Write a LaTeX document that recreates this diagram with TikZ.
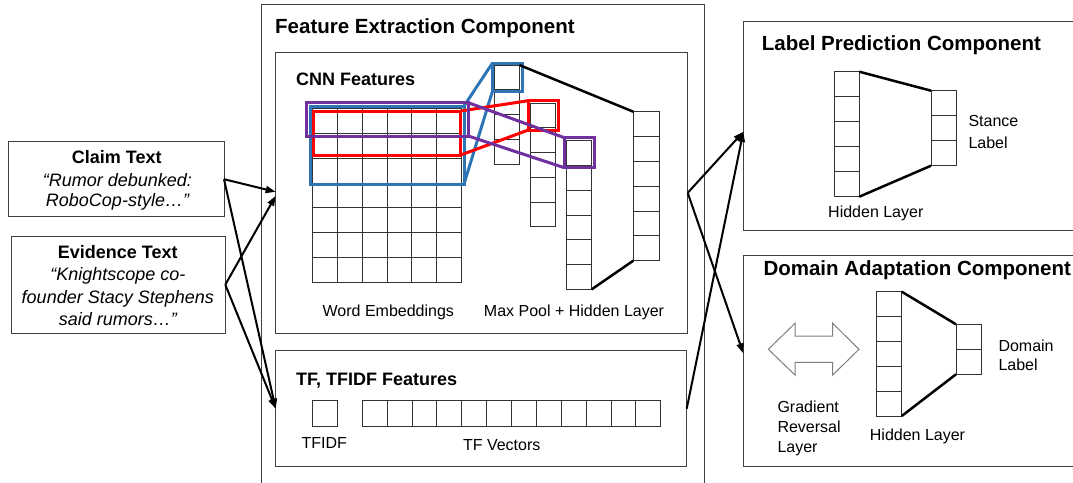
\documentclass[tikz,border=0pt]{standalone}
\usepackage{fontspec}
\setmainfont{Liberation Sans}
\usetikzlibrary{arrows.meta,calc}
\definecolor{boxgray}{HTML}{404040}
\definecolor{cellgray}{HTML}{333333}
\definecolor{hlblue}{HTML}{2E75B6}
\definecolor{hlred}{HTML}{FF0000}
\definecolor{hlpurple}{HTML}{7030A0}
\definecolor{arrgray}{HTML}{7F7F7F}
\tikzset{
  panel/.style={draw=boxgray, line width=1pt, inner sep=0pt, outer sep=0pt, anchor=north west},
  cellbox/.style={draw=cellgray, line width=1pt, inner sep=0pt, outer sep=0pt},
  cellline/.style={draw=cellgray, line width=1pt},
  hlbox/.style={draw=#1, line width=3pt, inner sep=0pt, outer sep=0pt, anchor=north west},
  hlline/.style={draw=#1, line width=3pt},
  fanline/.style={draw=black, line width=2.5pt},
  arr/.style={draw=black, line width=2pt, -{Triangle[length=10pt,width=7pt]}},
  comptitle/.style={font=\fontsize{20.5}{24}\selectfont\bfseries, inner sep=0pt, anchor=base west},
  subtitle/.style={font=\fontsize{18}{21}\selectfont\bfseries, inner sep=0pt, anchor=base west},
  lbl/.style={font=\fontsize{16}{19}\selectfont, inner sep=0pt, anchor=base},
  lblw/.style={font=\fontsize{16}{19}\selectfont, inner sep=0pt, anchor=base west},
  boxhead/.style={font=\fontsize{18}{21}\selectfont\bfseries, inner sep=0pt, anchor=base},
  boxtext/.style={font=\fontsize{18}{21}\selectfont\itshape, inner sep=0pt, anchor=base},
}
% #1 name, #2 x, #3 y (top), #4 width, #5 cell height, #6 number of cells
\newcommand{\cellcolumn}[6]{%
  \node[cellbox, minimum width=#4, minimum height=#5*#6, anchor=north west] (#1) at (#2,#3) {};
  \pgfmathtruncatemacro{\ccn}{#6-1}
  \foreach \k in {1,...,\ccn}{\draw[cellline] ($(#1.north west)+(0,\k*#5)$) -- ++(#4,0);}
}
% #1 name, #2 x, #3 y (top), #4 cell width, #5 height, #6 number of cells
\newcommand{\cellrow}[6]{%
  \node[cellbox, minimum width=#4*#6, minimum height=#5, anchor=north west] (#1) at (#2,#3) {};
  \pgfmathtruncatemacro{\ccn}{#6-1}
  \foreach \k in {1,...,\ccn}{\draw[cellline] ($(#1.north west)+(\k*#4,0)$) -- ++(0,#5);}
}
\begin{document}
\begin{tikzpicture}[x=1pt,y=-1pt]
\useasboundingbox (0,0) rectangle (1073,482);

% ---------- panels ----------
\node[panel, minimum width=443, minimum height=492] (fe) at (261,4) {};
\node[panel, minimum width=412, minimum height=280.3] (cnn) at (275.7,52.7) {};
\node[panel, minimum width=411, minimum height=116] (tf) at (275.7,350.7) {};
\node[panel, minimum width=333, minimum height=208.3] (label) at (743.3,21.7) {};
\node[panel, minimum width=333, minimum height=211.7] (domain) at (743.3,255) {};
\node[panel, minimum width=215.7, minimum height=75] (claim) at (8.3,141.7) {};
\node[panel, minimum width=214.3, minimum height=97.3] (evid) at (11,236) {};

% ---------- titles ----------
\node[comptitle] (fetitle) at (275,33) {Feature Extraction Component};
\node[subtitle] (cnntitle) at (296,85) {CNN Features};
\node[subtitle] (tftitle) at (296,385) {TF, TFIDF Features};
\node[comptitle] (labeltitle) at (761.7,50) {Label Prediction Component};
\node[comptitle] (domaintitle) at (763.3,275.5) {Domain Adaptation Component};

% ---------- input texts ----------
\node[boxhead] (claimhead) at (116.7,163.3) {Claim Text};
\node[boxtext] (claimt1) at (117.5,186.7) {“Rumor debunked:};
\node[boxtext] (claimt2) at (117.5,206.7) {RoboCop-style…”};
\node[boxhead] (evidhead) at (117.8,258.3) {Evidence Text};
\node[boxtext] (evidt1) at (117.8,280.7) {“Knightscope co-};
\node[boxtext] (evidt2) at (117.8,303.3) {founder Stacy Stephens};
\node[boxtext] (evidt3) at (117.8,325) {said rumors…”};

% ---------- word embedding grid ----------
\node[cellbox, minimum width=149.4, minimum height=174.3, anchor=north west] (we) at (312.3,108.3) {};
\foreach \k in {1,...,5}{\draw[cellline] ($(we.north west)+(\k*24.9,0)$) -- ++(0,174.3);}
\foreach \k in {1,...,6}{\draw[cellline] ($(we.north west)+(0,\k*24.9)$) -- ++(149.4,0);}

% ---------- feature map columns ----------
\cellcolumn{colA}{494.3}{65}{25}{24.83}{4}
\cellcolumn{colB}{530.7}{103.3}{25}{24.68}{5}
\cellcolumn{colC}{566.7}{140.7}{25}{24.77}{6}
\cellcolumn{colD}{633.3}{111.7}{25.7}{24.83}{6}

% ---------- highlights ----------
\node[hlbox=hlblue, minimum width=154, minimum height=78] (bluebox) at (310,106) {};
\node[hlbox=hlblue, minimum width=30, minimum height=28.4] (bluecell) at (492.3,63.3) {};
\draw[hlline=hlblue] (bluebox.north east) -- (bluecell.north west);
\draw[hlline=hlblue] (bluebox.south east) -- (bluecell.south west);

\node[hlbox=hlred, minimum width=147.4, minimum height=44] (redbox) at (313.3,111) {};
\node[hlbox=hlred, minimum width=30, minimum height=29.3] (redcell) at (528.3,100.7) {};
\draw[hlline=hlred] (redbox.north east) -- (redcell.north west);
\draw[hlline=hlred] (redbox.south east) -- (redcell.south west);

\node[hlbox=hlpurple, minimum width=162.3, minimum height=33.3] (purplebox) at (306,102.7) {};
\node[hlbox=hlpurple, minimum width=29.7, minimum height=30] (purplecell) at (564.3,137.7) {};
\draw[hlline=hlpurple] (purplebox.north east) -- (purplecell.north west);
\draw[hlline=hlpurple] (purplebox.south east) -- (purplecell.south west);

\draw[fanline] (colA.north east) -- (colD.north west);
\draw[fanline] (colC.south east) -- (colD.south west);

\node[lbl] (welabel) at (388.3,316) {Word Embeddings};
\node[lbl] (mplabel) at (574,316) {Max Pool + Hidden Layer};

% ---------- TF / TFIDF ----------
\node[cellbox, minimum width=25, minimum height=25.3, anchor=north west] (tfidf) at (312.3,400.7) {};
\cellrow{tfvec}{362.3}{400.7}{24.87}{25.3}{12}
\node[lbl] (tfidflabel) at (324.2,448.3) {TFIDF};
\node[lbl] (tfveclabel) at (501.7,450.5) {TF Vectors};

% ---------- label prediction ----------
\cellcolumn{lhid}{834}{71.7}{25.3}{25}{5}
\cellcolumn{stance}{931}{90.7}{25}{25}{3}
\draw[fanline] (lhid.north east) -- (stance.north west);
\draw[fanline] (lhid.south east) -- (stance.south west);
\node[lblw] (stancel1) at (968.3,126.3) {Stance};
\node[lblw] (stancel2) at (968.3,148.3) {Label};
\node[lbl] (lhidlabel) at (875.8,217.5) {Hidden Layer};

% ---------- domain adaptation ----------
\cellcolumn{dhid}{876.7}{291.7}{25}{24.86}{5}
\cellcolumn{dlab}{956}{324.3}{25}{25}{2}
\draw[fanline] (dhid.north east) -- (dlab.north west);
\draw[fanline] (dhid.south east) -- (dlab.south west);
\node[lblw] (doml1) at (998.3,351.7) {Domain};
\node[lblw] (doml2) at (998.3,370.7) {Label};
\node[lbl] (dhidlabel) at (917.5,440) {Hidden Layer};
\node[lblw] (grl1) at (777.3,412.7) {Gradient};
\node[lblw] (grl2) at (777.3,432.7) {Reversal};
\node[lblw] (grl3) at (777.3,452) {Layer};
\draw[draw=arrgray, line width=1pt, fill=white, line join=miter]
  (768.3,349.3) -- (795,323.3) -- (795,336) -- (832.7,336) -- (832.7,323.3) -- (859,349.3)
  -- (832.7,375) -- (832.7,362.3) -- (795,362.3) -- (795,375) -- cycle;

% ---------- connectors ----------
\draw[arr] (claim.east) -- ([yshift=1pt]cnn.west);
\draw[arr] (claim.east) -- (tf.west);
\draw[arr] (evid.east) -- ([yshift=-3pt]cnn.west);
\draw[arr] (evid.east) -- (tf.west);
\draw[arr] (cnn.east) -- ([yshift=-6pt]label.west);
\draw[arr] (tf.east) -- ([yshift=-6pt]label.west);
\draw[arr] (cnn.east) -- ([yshift=7.5pt]domain.west);
\end{tikzpicture}
\end{document}
